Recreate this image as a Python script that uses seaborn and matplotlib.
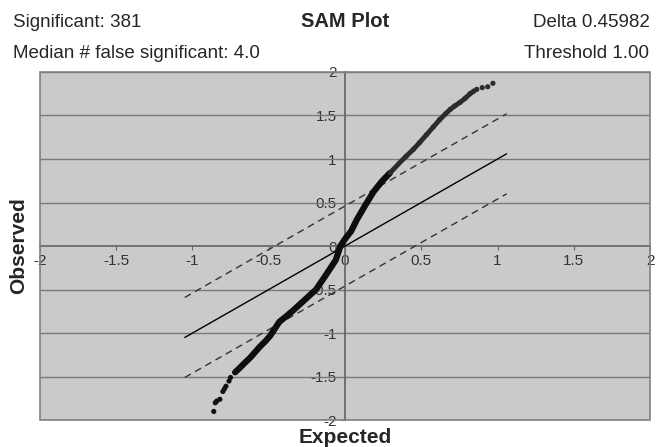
import numpy as np
import pandas as pd
import matplotlib
matplotlib.use("Agg")
import matplotlib.pyplot as plt
import seaborn as sns
from matplotlib.patches import Rectangle

# SAM plot readings (expected vs observed relative difference)
expected = [-0.86, -0.85, -0.84, -0.82, -0.80, -0.79, -0.78, -0.76, -0.75, -0.72,
            -0.69, -0.65, -0.62, -0.59, -0.56, -0.52, -0.49, -0.46, -0.43, -0.38,
            -0.34, -0.29, -0.24, -0.19, -0.12, -0.06, -0.03, 0.00, 0.04, 0.077,
            0.13, 0.186, 0.24, 0.295, 0.36, 0.40, 0.448, 0.49, 0.535, 0.58,
            0.62, 0.66, 0.69, 0.72, 0.754, 0.79, 0.82, 0.845, 0.864, 0.90,
            0.936, 0.97]
observed = [-1.90, -1.80, -1.78, -1.76, -1.67, -1.64, -1.61, -1.55, -1.51, -1.45,
            -1.40, -1.33, -1.28, -1.22, -1.16, -1.09, -1.03, -0.95, -0.87, -0.80,
            -0.74, -0.66, -0.58, -0.50, -0.32, -0.16, 0.00, 0.08, 0.17, 0.30,
            0.46, 0.62, 0.74, 0.84, 0.96, 1.03, 1.11, 1.19, 1.28, 1.37,
            1.45, 1.52, 1.57, 1.61, 1.65, 1.70, 1.75, 1.78, 1.80, 1.82,
            1.83, 1.87]

line_x = [-1.05, 1.06]
delta = 0.45982

header_left = ["Significant: 381", "Median # false significant: 4.0"]
header_right = ["Delta 0.45982", "Threshold 1.00"]
ticks = [-2, -1.5, -1, -0.5, 0, 0.5, 1, 1.5, 2]
tick_labels = ["-2", "-1.5", "-1", "-0.5", "0", "0.5", "1", "1.5", "2"]

sns.set_theme(style="white")
plt.rcParams["font.family"] = ["Liberation Sans", "DejaVu Sans"]

pts = pd.DataFrame({"expected": expected, "observed": observed})
lines = pd.DataFrame({
    "x": line_x * 3,
    "y": [v for v in line_x] + [v + delta for v in line_x] + [v - delta for v in line_x],
    "kind": ["mid"] * 2 + ["up"] * 2 + ["low"] * 2,
})

fig = plt.figure(figsize=(6.64, 4.47), dpi=100)
ax = fig.add_axes([0.060, 0.060, 0.919, 0.779])
ax.set_facecolor("#cacaca")

# horizontal gridlines
for t in ticks:
    if t != 0:
        ax.axhline(t, color="#7a7a7a", lw=1, zorder=1)

sns.lineplot(data=lines[lines.kind == "mid"], x="x", y="y", color="black", lw=1, ax=ax, zorder=3)
for k in ["up", "low"]:
    sns.lineplot(data=lines[lines.kind == k], x="x", y="y", color="#333333", lw=1,
                 ax=ax, zorder=3).lines[-1].set_dashes([5, 3.5])

# dense part of the curve drawn as a thick band, tails as single points
dense = pts.iloc[9:48]
lower = pts[(pts.observed < 0)]
upper = pts[(pts.observed > 1.0)]
sns.lineplot(data=dense[dense.observed < 0.9], x="expected", y="observed", sort=False,
             color="#0d0d0d", lw=4.5, ax=ax, zorder=4)
sns.lineplot(data=dense[dense.observed >= 0.84], x="expected", y="observed", sort=False,
             color="#2b2b2b", lw=3.5, ax=ax, zorder=4)
sns.scatterplot(data=lower, x="expected", y="observed", color="#111111", s=14,
                edgecolor="none", ax=ax, zorder=5)
sns.scatterplot(data=upper, x="expected", y="observed", color="#2b2b2b", s=14,
                edgecolor="none", ax=ax, zorder=5)

ax.set_xlim(-2, 2)
ax.set_ylim(-2, 2)
ax.set_xticks(ticks)
ax.set_xticklabels(tick_labels, fontsize=5.5)
ax.set_yticks(ticks)
ax.set_yticklabels(tick_labels, fontsize=5.5)
for side in ["top", "right"]:
    ax.spines[side].set_visible(False)
ax.spines["left"].set_position("zero")
ax.spines["bottom"].set_position("zero")
ax.spines["left"].set_color("#666666")
ax.spines["bottom"].set_color("#666666")
ax.tick_params(axis="both", length=3, width=0.8, color="#666666", pad=3,
               labelcolor="#333333", bottom=True, left=True)
ax.add_patch(Rectangle((0, 0), 1, 1, transform=ax.transAxes, fill=False,
                       edgecolor="#808080", lw=1.2, zorder=6, clip_on=False))
ax.set_xlabel("")
ax.set_ylabel("")

fig.text(0.019, 0.940, header_left[0], fontsize=13.5, ha="left", va="baseline")
fig.text(0.019, 0.870, header_left[1], fontsize=13.5, ha="left", va="baseline")
fig.text(0.978, 0.940, header_right[0], fontsize=13.5, ha="right", va="baseline")
fig.text(0.978, 0.870, header_right[1], fontsize=13.5, ha="right", va="baseline")
fig.text(0.519, 0.940, "SAM Plot", fontsize=14.5, fontweight="bold", ha="center", va="baseline")
fig.text(0.52, 0.022, "Expected", fontsize=15, fontweight="bold", ha="center", va="center")
fig.text(0.028, 0.45, "Observed", fontsize=15, fontweight="bold", ha="center",
         va="center", rotation=90)

fig.savefig("out.png", dpi=100)
